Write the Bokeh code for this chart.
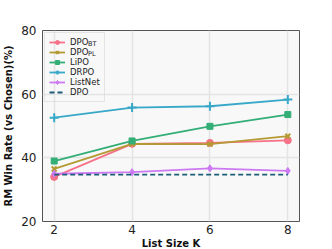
from bokeh.plotting import figure
from bokeh.models import Range1d, FixedTicker, Legend, LegendItem
from bokeh.core.properties import value
from bokeh.embed import file_html
from bokeh.resources import INLINE

# ---- data ----
list_sizes = [2, 4, 6, 8]
dpo_bt = [34.0, 44.4, 44.7, 45.5]
dpo_pl = [36.5, 44.4, 44.3, 46.8]
lipo = [39.0, 45.3, 49.9, 53.6]
drpo = [52.6, 55.8, 56.2, 58.3]
listnet = [35.0, 35.5, 36.7, 35.9]
dpo = [34.7, 34.7, 34.7, 34.7]
x_ticks = [2, 4, 6, 8]
y_ticks = [20, 40, 60, 80]
subscripts = ["BT", "PL"]

FONT = "DejaVu Sans"
BL, BR, BT, BB = 42, 33, 30, 28
FW, FH = 257, 191
X0, X1, Y0, Y1 = 1.7, 8.3, 20, 80

p = figure(frame_width=FW, frame_height=FH, output_backend="svg",
           toolbar_location=None,
           x_range=Range1d(X0, X1), y_range=Range1d(Y0, Y1),
           min_border_left=BL, min_border_right=BR, min_border_top=BT,
           min_border_bottom=BB)
p.background_fill_color = "#f8f8f8"
p.border_fill_color = "white"
p.outline_line_color = "#555555"
p.outline_line_width = 1

p.xaxis.ticker = FixedTicker(ticks=x_ticks)
p.yaxis.ticker = FixedTicker(ticks=y_ticks)
for ax in (p.xaxis[0], p.yaxis[0]):
    ax.axis_line_color = None
    ax.major_tick_line_color = None
    ax.minor_tick_line_color = None
    ax.major_tick_out = 0
    ax.major_tick_in = 0
    ax.minor_tick_out = 0
    ax.minor_tick_in = 0
    ax.major_label_text_font = FONT
    ax.major_label_text_font_size = "12px"
    ax.major_label_text_color = "#222222"
    ax.axis_label_text_font = FONT
    ax.axis_label_text_font_style = "bold"
    ax.axis_label_text_font_size = "10px"
    ax.axis_label_text_color = "#111111"
p.xaxis.major_label_standoff = 3
p.xaxis.axis_label_standoff = 1
p.yaxis.major_label_standoff = 6
p.yaxis.axis_label_standoff = 4
p.xaxis.axis_label = "List Size K"
p.yaxis.axis_label = "RM Win Rate (vs Chosen)(%)"

p.grid.grid_line_color = "#e4e4e4"
p.grid.grid_line_width = 1.5

series = [
    ("DPO", dpo_bt, "#f77189", "circle", 7),
    ("DPO", dpo_pl, "#b49a32", "x", 7),
    ("LiPO", lipo, "#33ae76", "square", 6),
    ("DRPO", drpo, "#38a8c8", "cross", 9),
    ("ListNet", listnet, "#cc79f2", "diamond", 7),
]

items = []
for name, vals, col, mk, sz in series:
    ln = p.line(list_sizes, vals, line_color=col, line_width=1.8)
    sc = p.scatter(list_sizes, vals, marker=mk, size=sz, fill_color=col,
                   line_color=col, line_width=2 if mk in ("x", "cross") else 1)
    items.append(LegendItem(label=name, renderers=[ln, sc]))

dl = p.line(list_sizes, dpo, line_color="#1d5d78", line_width=1.8, line_dash="5 3")
items.append(LegendItem(label="DPO", renderers=[dl]))

MARGIN, PAD, ROW = 2, 4, 10
legend = Legend(items=items, location="top_left", margin=MARGIN, padding=PAD,
                spacing=0, glyph_width=16, glyph_height=ROW, label_height=ROW,
                label_standoff=5, label_text_font=FONT,
                label_text_font_size="8.5px", label_text_color="#222222",
                border_line_color="#d0d0d0", border_line_width=1,
                background_fill_color=None)
p.add_layout(legend)

# subscripts for DPO_BT and DPO_PL (placed next to the legend labels)
sub_px = MARGIN + PAD + 16 + 5 + 18.6
sx = [X0 + sub_px / FW * (X1 - X0)] * len(subscripts)
sy = [Y1 - (MARGIN + PAD + ROW / 2 + ROW * i + 2.5) / FH * (Y1 - Y0)
      for i in range(len(subscripts))]
p.text(x=sx, y=sy, text=subscripts, text_font=value(FONT),
       text_font_size="6.5px", text_color="#222222", text_baseline="middle")

open("out.html", "w").write(file_html(p, INLINE))
